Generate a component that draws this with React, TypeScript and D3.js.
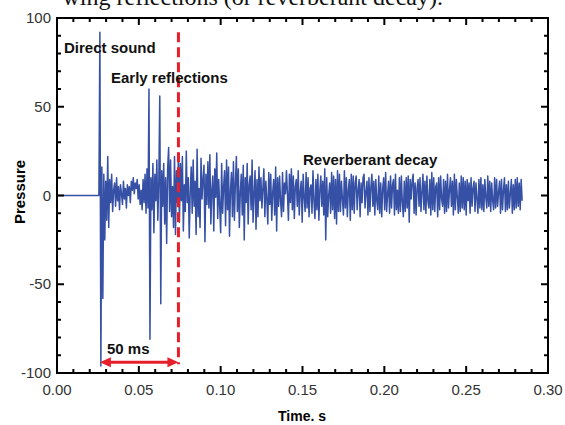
import React from "react";
import * as d3 from "d3";

// ---- data ----
const signalStart = 0.0262; // s, arrival of direct sound
const sampleStep = 0.0006; // s between samples
const quietPressure = [0, 0]; // silence before the direct sound
const quietTimes = [0, 0.0256];

const directAndEarly = [
  92, -96, 16, -58, 12, -25, 8, -14, 22, -18,
  9, -4, 12, -9, 3, 7, -6, 10, -3, 5,
  -8, 6, 1, -5, 8, -2, 4, -7, 6, 0,
  5, -4, 8, 3, 10, 1, 7, 4, 9, -2,
  6, -5, 3, -8, 9, -4, 12, -10, 15, -7,
  60, -81, 10, -8, 18, -21, 12, -3, 20, -14,
  8, 56, -61, 14, -6, 18, -16, 10, -27, 15,
  27, -9, 20, -12, 5, -18, 22, -22, 14, -4,
  24,
];
const reverbEarly = [
  -15, 18, -3, 22, -20, 6, -9, 25, -4, 10,
  -24, 2, 16, -10, 20, -6, 8, -22, 26, -12,
  4, -18, 21, -2, 9, 17, -26, 12, -5, 19,
  -7, 23, -16, 3, 11, -20, 15, -1, 24, -13,
  9, -6, -21, 18, -10, 5, 14, -17, 20, -8,
  16, -23, 3, 13, -12, 19, -14, 7, 22, -9,
  15, -18, 2, 12, -11, 17, -25, 10, -4, 18,
  -16, 6, 11, -8, 20, -15, 1, 14, -19, 9,
];
const reverbMid = [
  -12, 16, -3, 10, -7, 4, 15, -12, 8, -2,
  -16, 13, -5, 12, -14, 2, 9, -11, 16, -20,
  10, -6, 11, -3, -12, 13, -9, 7, 1, 14,
  1, -14, 12, -4, 15, -8, 11, -13, 5, 9,
  -6, 14, -11, 2, 8, -15, 12, -1, -9, 13,
  -7, 10, -12, 4, 6, -10, 14, -3, -13, 9,
  -8, 12, -14, 3, 11, -6, 8, -11, 15, -25,
  10, -12, 0, 7, -10, 13, -8, 11, -13, 9,
  -16, 14, -9, 12, -9, 8, -2, -11, 14, -7,
  10, -12, 3, 9, -14, 12, -8, 11, -10, 7,
];
const reverbLate = [
  11, -8, 3, 9, -12, 7, -4, 10, 12, -7,
  2, 8, -11, 10, -9, 5, 12, -6, 8, -11,
  9, -3, -8, 11, -10, 7, -12, 4, 10, -8,
  13, -9, 1, 8, -10, 11, -7, 6, 9, -11,
  12, -8, 3, -10, 10, -9, 11, -4, -12, 8,
  -9, 10, -7, 11, -15, 9, -2, 8, 12, -10,
  7, -11, 4, 9, -6, 10, -9, 2, 12, -8,
  8, -10, 11, -3, -7, 9, -11, 13, -8, 10,
  -9, 5, 7, -12, 10, -8, 11, -2, -6, 9,
  -10, 8, -9, 12, -7, 3, 10, -6, 8, -11,
  12, -8, 9, -1, -10, 7, -9, 11, -7, 10,
];
const reverbTail = [
  -8, 8, -11, 9, -3, 7, -10, 10, -6, 4,
  8, -9, 7, -2, -10, 9, -7, 10, -8, 6,
  -9, 9, -1, -7, 11, -6, 8, -9, 7, -3,
  -8, 10, -7, 9, -6, 2, 8, -10, 9, -8,
  3, 10, -9, 6, -8, 8, -7, 1, 9, -10,
  6, -8, 9, -7, 10, -6, 7, -8, 9, -3,
];
const earlyLimit = 0.0742; // s, end of early reflections (50 ms after direct sound)
const arrowLevel = -94;

const xTickValues = [0, 0.05, 0.1, 0.15, 0.2, 0.25, 0.3];
const xTickLabels = ["0.00", "0.05", "0.10", "0.15", "0.20", "0.25", "0.30"];
const yTickValues = [-100, -50, 0, 50, 100];
const yTickLabels = ["-100", "-50", "0", "50", "100"];

const W = 565;
const H = 425;
const M = { left: 57, right: 548, top: 18, bottom: 373 };

export default function App() {
  const x = d3.scaleLinear().domain([0, 0.3]).range([M.left, M.right]);
  const y = d3.scaleLinear().domain([-100, 100]).range([M.bottom, M.top]);

  const samples = [...directAndEarly, ...reverbEarly, ...reverbMid, ...reverbLate, ...reverbTail];
  const pts: [number, number][] = [
    ...quietTimes.map((t, i) => [t, quietPressure[i]] as [number, number]),
    ...samples.map((p, i) => [signalStart + i * sampleStep, p] as [number, number]),
  ];
  const line = d3
    .line<[number, number]>()
    .x((d) => x(d[0]))
    .y((d) => y(d[1]));

  const xMinor = x.ticks(30);
  const yMinor = y.ticks(20);
  const font = "'Liberation Sans', Arial, sans-serif";
  const red = "#e5202b";

  const ax = x(signalStart);
  const bx = x(earlyLimit);
  const ay = y(arrowLevel);

  return (
    <svg
      width={W}
      height={H}
      style={{ position: "absolute", left: 0, top: 0, background: "#fff" }}
      fontFamily={font}
    >
      <rect x={0} y={0} width={W} height={H} fill="#fff" />
      {/* cropped caption from the page above the figure */}
      <text
        x={443}
        y={5}
        textAnchor="end"
        fontFamily="'Liberation Serif', 'Times New Roman', serif"
        fontSize={24}
        fill="#111"
      >
        wing reflections (or reverberant decay).
      </text>

      {/* waveform */}
      <path d={line(pts) || ""} fill="none" stroke="#3550a5" strokeWidth={1.5} strokeLinejoin="round" />

      {/* dashed boundary */}
      <line
        x1={bx}
        x2={bx}
        y1={y(92)}
        y2={ay + 2}
        stroke={red}
        strokeWidth={3}
        strokeDasharray="10,5"
      />

      {/* double arrow */}
      <line x1={ax + 8} x2={bx - 8} y1={ay} y2={ay} stroke={red} strokeWidth={3} />
      <path d={`M${ax},${ay} L${ax + 11},${ay - 5} L${ax + 11},${ay + 5} Z`} fill={red} />
      <path d={`M${bx},${ay} L${bx - 11},${ay - 5} L${bx - 11},${ay + 5} Z`} fill={red} />

      {/* frame */}
      <rect
        x={M.left}
        y={M.top}
        width={M.right - M.left}
        height={M.bottom - M.top}
        fill="none"
        stroke="#000"
        strokeWidth={2}
      />
      {xMinor.map((v, i) => {
        const major = xTickValues.some((m) => Math.abs(m - v) < 1e-9);
        const len = major ? 7 : 4;
        return (
          <g key={"xt" + i} stroke="#000" strokeWidth={2}>
            <line x1={x(v)} x2={x(v)} y1={M.bottom} y2={M.bottom - len} />
            <line x1={x(v)} x2={x(v)} y1={M.top} y2={M.top + len} />
          </g>
        );
      })}
      {yMinor.map((v, i) => {
        const major = yTickValues.includes(v);
        const len = major ? 7 : 4;
        return (
          <g key={"yt" + i} stroke="#000" strokeWidth={2}>
            <line x1={M.left} x2={M.left + len} y1={y(v)} y2={y(v)} />
            <line x1={M.right} x2={M.right - len} y1={y(v)} y2={y(v)} />
          </g>
        );
      })}
      {xTickValues.map((v, i) => (
        <text key={"xl" + i} x={x(v)} y={395} textAnchor="middle" fontSize={15} fill="#333">
          {xTickLabels[i]}
        </text>
      ))}
      {yTickValues.map((v, i) => (
        <text key={"yl" + i} x={51} y={y(v) + 5} textAnchor="end" fontSize={15} fill="#333">
          {yTickLabels[i]}
        </text>
      ))}

      {/* axis titles */}
      <text x={302} y={421} textAnchor="middle" fontSize={14} fontWeight="bold" fill="#000">
        Time. s
      </text>
      <text
        transform={`translate(25,192) rotate(-90)`}
        textAnchor="middle"
        fontSize={15}
        fontWeight="bold"
        fill="#000"
      >
        Pressure
      </text>

      {/* annotations */}
      <g fontSize={15} fontWeight="bold" fill="#111">
        <text x={64} y={53}>Direct sound</text>
        <text x={111} y={83}>Early reflections</text>
        <text x={303} y={165}>Reverberant decay</text>
        <text x={107} y={354}>50 ms</text>
      </g>
    </svg>
  );
}
